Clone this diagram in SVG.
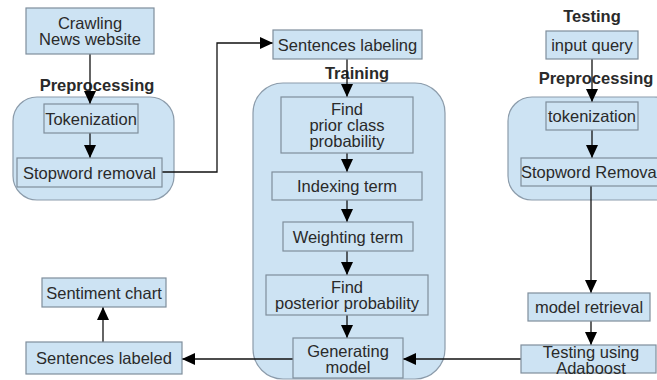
<svg xmlns="http://www.w3.org/2000/svg" width="657" height="380" viewBox="0 0 657 380">
<defs>
<style>
.cont{fill:#cde3f3;stroke:#8c9cab;stroke-width:1.2}
.box{fill:#cde3f3;stroke:#7f8e9c;stroke-width:1.2}
text{font-family:"Liberation Sans",Arial,sans-serif;font-size:16.5px;fill:#2a2a2a;text-anchor:middle;dominant-baseline:central}
.lbl{font-weight:bold}
.ln{fill:none;stroke:#111;stroke-width:1.3}
</style>
<marker id="ah" markerUnits="userSpaceOnUse" markerWidth="14" markerHeight="12" refX="13" refY="6" orient="auto">
<path d="M0,0 L13,6 L0,12 Z" fill="#000"/>
</marker>
</defs>
<rect width="657" height="380" fill="#fff"/>
<g id="containers">
<rect id="prep-left" class="cont" x="13" y="97" width="161" height="103" rx="24"/>
<rect id="training" class="cont" x="253" y="83" width="192" height="296" rx="30"/>
<rect id="prep-right" class="cont" x="508" y="97" width="170" height="103" rx="24"/>
</g>
<g id="labels">
<text class="lbl" x="97" y="85">Preprocessing</text>
<text class="lbl" x="357" y="73">Training</text>
<text class="lbl" x="592" y="16">Testing</text>
<text class="lbl" x="596" y="78">Preprocessing</text>
</g>
<g id="connectors">
<line class="ln" x1="90" y1="54" x2="90" y2="104" marker-end="url(#ah)"/>
<line class="ln" x1="90" y1="133" x2="90" y2="158" marker-end="url(#ah)"/>
<polyline class="ln" points="162,172 217,172 217,43 273,43" marker-end="url(#ah)"/>
<line class="ln" x1="347" y1="59" x2="347" y2="97" marker-end="url(#ah)"/>
<line class="ln" x1="347" y1="153" x2="347" y2="172" marker-end="url(#ah)"/>
<line class="ln" x1="347" y1="200" x2="347" y2="222" marker-end="url(#ah)"/>
<line class="ln" x1="347" y1="251" x2="347" y2="275" marker-end="url(#ah)"/>
<line class="ln" x1="347" y1="315" x2="347" y2="338" marker-end="url(#ah)"/>
<line class="ln" x1="592" y1="59" x2="592" y2="102" marker-end="url(#ah)"/>
<line class="ln" x1="592" y1="130" x2="592" y2="158" marker-end="url(#ah)"/>
<line class="ln" x1="591" y1="186" x2="591" y2="293" marker-end="url(#ah)"/>
<line class="ln" x1="591" y1="321" x2="591" y2="345" marker-end="url(#ah)"/>
<line class="ln" x1="521" y1="359" x2="403" y2="359" marker-end="url(#ah)"/>
<line class="ln" x1="293" y1="359" x2="182" y2="359" marker-end="url(#ah)"/>
<line class="ln" x1="103" y1="342" x2="103" y2="307" marker-end="url(#ah)"/>
</g>
<g id="crawling"><rect class="box" x="26" y="8" width="128" height="46"/><text x="90" y="23">Crawling</text><text x="90" y="39">News website</text></g>
<g id="tokenization-l"><rect class="box" x="44" y="104" width="94" height="29"/><text x="91" y="118.5">Tokenization</text></g>
<g id="stopword-l"><rect class="box" x="17" y="158" width="145" height="29"/><text x="89.5" y="172.5">Stopword removal</text></g>
<g id="sent-labeling"><rect class="box" x="273" y="30" width="149" height="29"/><text x="347.5" y="44.5">Sentences labeling</text></g>
<g id="prior"><rect class="box" x="281" y="97" width="132" height="56"/><text x="347" y="108.5">Find</text><text x="347" y="124.5">prior class</text><text x="347" y="140.5">probability</text></g>
<g id="indexing"><rect class="box" x="272" y="172" width="150" height="28"/><text x="347" y="186">Indexing term</text></g>
<g id="weighting"><rect class="box" x="283" y="222" width="130" height="29"/><text x="348" y="236.5">Weighting term</text></g>
<g id="posterior"><rect class="box" x="266" y="275" width="162" height="40"/><text x="347" y="286.5">Find</text><text x="347" y="303">posterior probability</text></g>
<g id="generating"><rect class="box" x="293" y="338" width="110" height="40"/><text x="348" y="351">Generating</text><text x="348" y="367">model</text></g>
<g id="input-query"><rect class="box" x="546" y="31" width="92" height="28"/><text x="592" y="45">input query</text></g>
<g id="tokenization-r"><rect class="box" x="546" y="102" width="92" height="28"/><text x="592" y="116">tokenization</text></g>
<g id="stopword-r"><rect class="box" x="521" y="158" width="145" height="28"/><text x="521" y="172" style="text-anchor:start">Stopword Remova</text></g>
<g id="model-retrieval"><rect class="box" x="528" y="293" width="122" height="28"/><text x="589" y="307">model retrieval</text></g>
<g id="adaboost"><rect class="box" x="521" y="345" width="135" height="28"/><text x="591" y="352">Testing using</text><text x="591" y="368">Adaboost</text></g>
<g id="sentiment-chart"><rect class="box" x="42" y="278" width="124" height="29"/><text x="104" y="292.5">Sentiment chart</text></g>
<g id="sent-labeled"><rect class="box" x="26" y="342" width="156" height="32"/><text x="104" y="358">Sentences labeled</text></g>
</svg>
